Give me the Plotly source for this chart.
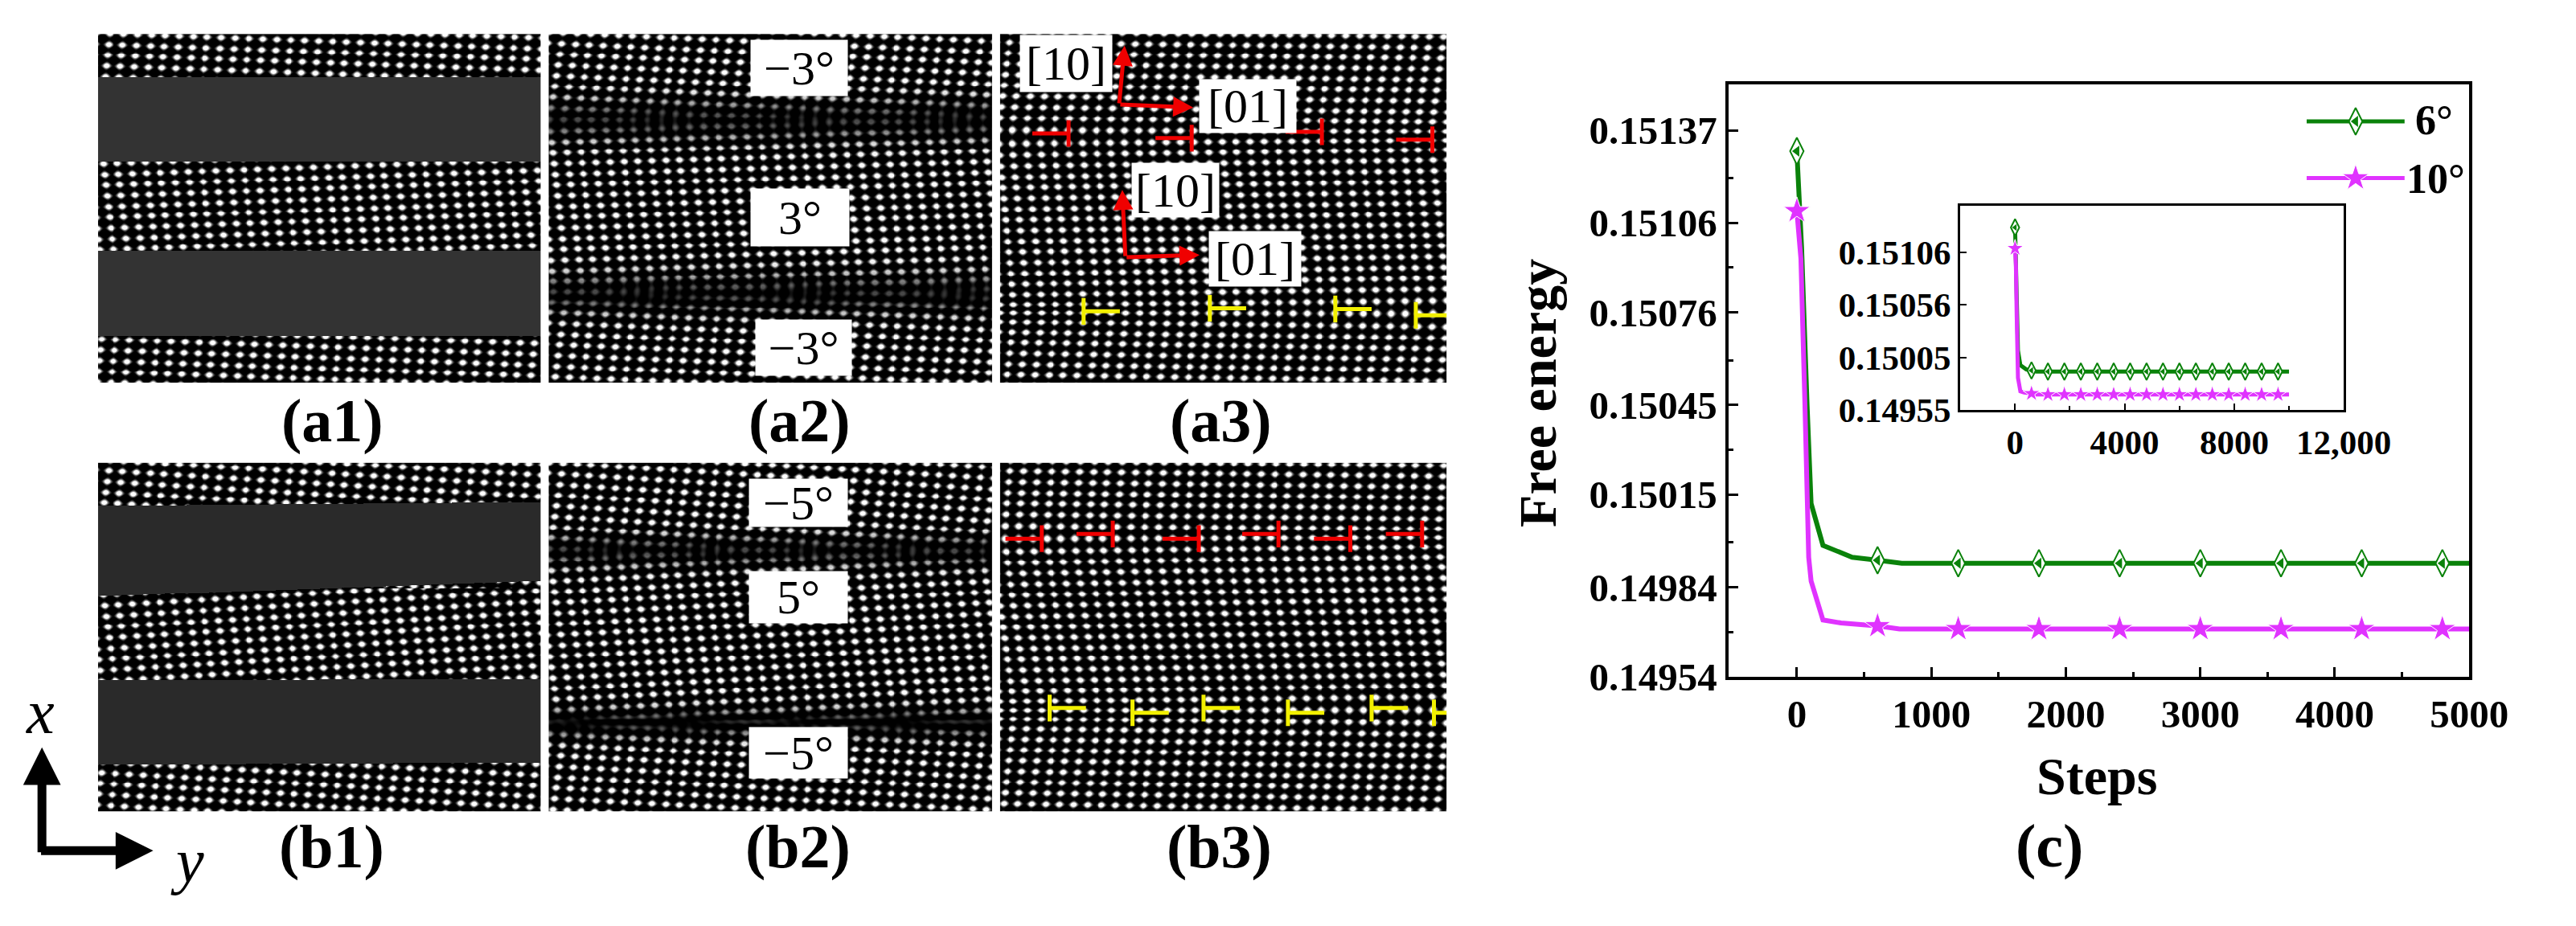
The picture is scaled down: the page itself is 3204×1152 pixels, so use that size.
import numpy as np
import plotly.graph_objects as go

W, H = 3204, 1152
# the page body keeps its 8 px margin, so the figure is drawn smaller and everything is shifted by it
PAGE_MARGIN = 8
FIG_W, FIG_H = W - 2 * PAGE_MARGIN, H - 2 * PAGE_MARGIN - 4
SERIF = "Liberation Serif"
GREEN = "#0a820a"
MAGENTA = "#e033ff"

# --- curve (c) ---
steps_6 = [0, 35, 76, 106, 194, 411, 604, 780, 1200, 2400, 5000, 10000]
energy_6 = [0.15130, 0.15098, 0.15045, 0.15012, 0.14998, 0.14994, 0.14993, 0.14992, 0.14992, 0.14992, 0.14992, 0.14992]
steps_10 = [0, 30, 60, 88, 106, 194, 329, 604, 763, 1200, 2400, 5000, 10000]
energy_10 = [0.15110, 0.15094, 0.15045, 0.14994, 0.14986, 0.14973, 0.14972, 0.14971, 0.14970, 0.14970, 0.14970, 0.14970, 0.14970]
marker_steps = [0, 600, 1200, 1800, 2400, 3000, 3600, 4200, 4800, 5400, 6000, 6600, 7200, 7800, 8400, 9000, 9600]
marker_6 = [0.15130, 0.14993] + [0.14992] * 15
marker_10 = [0.15110, 0.14971] + [0.14970] * 15

main_yticks = [0.14954, 0.14984, 0.15015, 0.15045, 0.15076, 0.15106, 0.15137]
main_ylabels = ["0.14954", "0.14984", "0.15015", "0.15045", "0.15076", "0.15106", "0.15137"]
main_yminor = [0.14969, 0.14999, 0.15030, 0.15060, 0.15091, 0.15121]
main_xticks = [0, 1000, 2000, 3000, 4000, 5000]
main_xminor = [500, 1500, 2500, 3500, 4500]
inset_yticks = [0.14955, 0.15005, 0.15056, 0.15106]
inset_ylabels = ["0.14955", "0.15005", "0.15056", "0.15106"]
inset_xticks = [0, 4000, 8000, 12000]
inset_xlabels = ["0", "4000", "8000", "12,000"]
inset_xminor = [2000, 6000, 10000]

# legend key, in main axis units
legend_x = [3791, 4519]
legend_mid = [4155]
legend_y_6 = [0.15140, 0.15140]
legend_y_10 = [0.15121, 0.15121]

# --- micrograph panels, image pixels ---
panel_left = [124, 695, 1267]
panel_right = [685, 1257, 1833]
row_top = [43, 590]
row_bottom = [488, 1035]

# dark bands of (a1) and (b1): top/bottom edge at the left and right side
bands_a1 = [[98, 98, 205, 205], [320, 320, 427, 428]]
bands_b1 = [[645, 640, 760, 740], [867, 865, 975, 972]]
band_grey = [51, 42]

# lattice pitch in pixels
pitch_x = 17.7
pitch_y = 13.7

# grains: lower limit in y, row slope, column lean, anchor dot
grains_a1 = [[43, 0.035, -0.08, 137, 56], [205, -0.035, 0.09, 132, 222], [427, 0.035, -0.08, 128, 432]]
grains_a2 = [[43, 0.045, -0.12, 711, 55], [152, -0.03, 0.084, 718, 194], [373, 0.04, -0.1, 712, 412]]
grains_b1 = [[590, 0.06, -0.11, 137, 600], [750, -0.06, 0.11, 132, 772], [970, 0.055, -0.11, 128, 985]]
grains_b2 = [[590, 0.06, -0.12, 711, 604], [702, -0.05, 0.11, 718, 740], [922, 0.05, -0.11, 712, 950]]
slopes_a3 = [[43, 0.012, -0.10], [172, -0.015, 0.075], [397, 0.015, -0.09]]
slopes_b3 = [[590, 0.012, -0.07], [684, -0.015, 0.11], [906, 0.015, -0.09]]

# dislocation symbols: end of the stem that meets the bar
red_a3 = [[1354, 170], [1510, 176], [1675, 168], [1815, 178]]
yellow_a3 = [[1373, 397], [1533, 393], [1692, 394], [1794, 402]]
red_b3 = [[1320, 687], [1410, 681], [1519, 687], [1620, 681], [1711, 687], [1802, 681]]
yellow_b3 = [[1330, 903], [1435, 909], [1525, 903], [1632, 909], [1738, 903], [1817, 909]]

# white label boxes: centre x, centre y, width, height, text
labels_a2 = [[1013, 86, 118, 67, "−3°"], [1014, 277, 120, 69, "3°"], [1018, 443, 117, 67, "−3°"]]
labels_b2 = [[1012, 641, 120, 57, "−5°"], [1012, 762, 120, 62, "5°"], [1012, 960, 120, 61, "−5°"]]
labels_a3 = [[1351, 81, 112, 68, "[10]"], [1489, 242, 106, 65, "[10]"], [1581, 135, 118, 64, "[01]"], [1590, 330, 112, 66, "[01]"]]


def grid(col, row):
    x = np.arange(panel_left[col], panel_right[col])
    y = np.arange(row_top[row], row_bottom[row])
    return np.meshgrid(x, y)


def wave(X, Y, g):
    dx = (X - g[3]) / pitch_x
    dy = (Y - g[4]) / pitch_y
    u = dx - g[2] * dy
    v = dy - g[1] * pitch_x / pitch_y * dx
    return (np.cos(2 * np.pi * u) + np.cos(2 * np.pi * v)) / 2


def dots(psi):
    return np.clip(np.clip(psi + 0.05, 0, 1) ** 1.5 * 1.35, 0, 1) * 255


def band_panel(col, row, grains, bands, grey):
    # two grains with a flat grey stripe painted over each boundary
    X, Y = grid(col, row)
    img = np.zeros(X.shape)
    for i, g in enumerate(grains):
        stop = grains[i + 1][0] if i + 1 < len(grains) else 99999
        m = (Y >= g[0]) & (Y < stop)
        img[m] = dots(wave(X, Y, g))[m]
    t = (X - X.min()) / (X.max() - X.min())
    for b in bands:
        top = b[0] + (b[1] - b[0]) * t
        bot = b[2] + (b[3] - b[2]) * t
        img[(Y >= top) & (Y <= bot)] = grey
    return img.astype(np.uint8)


def moire_panel(col, row, grains, width):
    # grains overlap at each boundary, the interference gives the chevrons
    X, Y = grid(col, row)
    psi = wave(X, Y, grains[0])
    dim = np.ones(X.shape)
    for g in grains[1:]:
        w = 0.5 * (1 + np.tanh((Y - g[0]) / (width * 0.8)))
        psi = (1 - w) * psi + w * wave(X, Y, g)
        dim -= 0.72 * np.exp(-(((Y - g[0]) / width) ** 2))
    return (dots(psi) * np.clip(dim, 0, 1)).astype(np.uint8)


def smooth_panel(col, row, slopes, anchor):
    # one connected lattice, the tilt changes at the dislocation rows
    X, Y = grid(col, row)
    mid = (panel_left[col] + panel_right[col]) / 2
    ys = Y[:, 0].astype(float)
    kr = np.full(ys.shape, slopes[0][1])
    kc = np.full(ys.shape, slopes[0][2])
    for i in range(1, len(slopes)):
        w = 0.5 * (1 + np.tanh((ys - slopes[i][0]) / 16))
        kr = kr + (slopes[i][1] - slopes[i - 1][1]) * w
        kc = kc + (slopes[i][2] - slopes[i - 1][2]) * w
    shift = np.cumsum(kc) / pitch_y
    u = (X - anchor) / pitch_x - shift[:, None]
    v = (Y - row_top[row]) / pitch_y - kr[:, None] * (X - mid) / pitch_y
    psi = (np.cos(2 * np.pi * u) + np.cos(2 * np.pi * v)) / 2
    return dots(psi).astype(np.uint8)


panels = [
    band_panel(0, 0, grains_a1, bands_a1, band_grey[0]),
    moire_panel(1, 0, grains_a2, 24),
    smooth_panel(2, 0, slopes_a3, 1280),
    band_panel(0, 1, grains_b1, bands_b1, band_grey[1]),
    moire_panel(1, 1, grains_b2, 18),
    smooth_panel(2, 1, slopes_b3, 1280),
]


def px(x):
    return (x - PAGE_MARGIN) / FIG_W


def py(y):
    return 1 - (y - PAGE_MARGIN) / FIG_H


fig = go.Figure()
layout = {}


def place(n, left, right, top, bottom):
    layout[f"xaxis{n}"] = dict(domain=[px(left), px(right)], anchor=f"y{n}")
    layout[f"yaxis{n}"] = dict(domain=[py(bottom), py(top)], anchor=f"x{n}")


for i, img in enumerate(panels):
    n = i + 1
    col, row = i % 3, i // 3
    place(n, panel_left[col], panel_right[col], row_top[row], row_bottom[row])
    layout[f"xaxis{n}"].update(range=[panel_left[col], panel_right[col]], visible=False)
    layout[f"yaxis{n}"].update(range=[row_bottom[row], row_top[row]], visible=False)
    fig.add_trace(go.Heatmap(z=img, x0=panel_left[col] + 0.5, dx=1, y0=row_top[row] + 0.5, dy=1,
                             zmin=0, zmax=255, showscale=False, hoverinfo="skip",
                             colorscale=[[0, "black"], [1, "white"]],
                             xaxis=f"x{n}", yaxis=f"y{n}"))


def add_t_marks(marks, sign, color, n):
    xs, ys = [], []
    for m in marks:
        xs += [m[0] - sign * 46, m[0], None, m[0], m[0], None]
        ys += [m[1], m[1], None, m[1] - 17, m[1] + 17, None]
    fig.add_trace(go.Scatter(x=xs, y=ys, mode="lines", line=dict(color=color, width=5),
                             showlegend=False, hoverinfo="skip", xaxis=f"x{n}", yaxis=f"y{n}"))


add_t_marks(red_a3, 1, "#f00000", 3)
add_t_marks(yellow_a3, -1, "#f2f000", 3)
add_t_marks(red_b3, 1, "#f00000", 6)
add_t_marks(yellow_b3, -1, "#f2f000", 6)

annotations = []


def add_boxes(labels, n, size):
    for b in labels:
        annotations.append(dict(x=b[0], y=b[1], xref=f"x{n}", yref=f"y{n}", text=b[4], showarrow=False,
                                width=b[2], height=b[3], bgcolor="white", valign="middle",
                                font=dict(family=SERIF, size=size, color="black")))


add_boxes(labels_a2, 2, 60)
add_boxes(labels_b2, 5, 60)
add_boxes(labels_a3, 3, 60)


def red_arrow(x0, y0, x1, y1):
    annotations.append(dict(x=x1, y=y1, ax=x0, ay=y0, xref="x3", yref="y3", axref="x3", ayref="y3", text="",
                            showarrow=True, arrowhead=2, arrowwidth=5, arrowsize=1, arrowcolor="#f00000"))


red_arrow(1418, 133, 1425, 58)
red_arrow(1418, 133, 1512, 137)
red_arrow(1426, 328, 1422, 242)
red_arrow(1426, 328, 1520, 325)

# panel captions and free text
def caption(text, x, y, size=76, bold=True, italic=False, angle=0, left=False):
    annotations.append(dict(x=px(x), y=py(y), xref="paper", yref="paper", text=text, showarrow=False,
                            textangle=angle, xanchor="left" if left else "center", yanchor="middle",
                            font=dict(family=SERIF, size=size, color="black",
                                      weight="bold" if bold else "normal",
                                      style="italic" if italic else "normal")))


caption("(a1)", 421, 537)
caption("(a2)", 1013, 537)
caption("(a3)", 1547, 537)
caption("(b1)", 420, 1080)
caption("(b2)", 1011, 1080)
caption("(b3)", 1545, 1080)
caption("(c)", 2597, 1079)
caption("Steps", 2657, 990, size=66)
caption("Free energy", 1949, 501, size=66, angle=-90)
caption("6°", 3058, 153, size=52, left=True)
caption("10°", 3047, 228, size=52, left=True)
caption("x", 51, 908, size=78, bold=False, italic=True)
caption("y", 237, 1097, size=78, bold=False, italic=True)

# x / y arrows
for tip in ([53, 953], [194, 1085]):
    annotations.append(dict(x=px(tip[0]), y=py(tip[1]), xref="paper", yref="paper",
                            ax=53 - tip[0], ay=1085 - tip[1], axref="pixel", ayref="pixel", text="",
                            showarrow=True, arrowhead=2, arrowwidth=11, arrowsize=0.85, arrowcolor="black"))


# --- plot (c) ---
def tick_style(size, line, tlen):
    return dict(showline=True, linecolor="black", linewidth=line, mirror=True, showgrid=False, zeroline=False,
                ticks="inside", ticklen=tlen, tickwidth=line - 1, tickcolor="black",
                tickfont=dict(family=SERIF, size=size, color="black", weight="bold"))


place(7, 2190, 3129, 107, 863)
layout["xaxis7"].update(range=[-510, 5000], tickvals=main_xticks, tickmode="array", **tick_style(49, 4, 12),
                        minor=dict(tickvals=main_xminor, ticks="inside", ticklen=6, tickwidth=3, tickcolor="black"))
layout["yaxis7"].update(range=[0.14954, 0.151525], tickvals=main_yticks, ticktext=main_ylabels, tickmode="array",
                        **tick_style(49, 4, 12),
                        minor=dict(tickvals=main_yminor, ticks="inside", ticklen=6, tickwidth=3, tickcolor="black"))
place(8, 2484, 2970, 262, 523)
layout["xaxis8"].update(range=[-2000, 12000], tickvals=inset_xticks, ticktext=inset_xlabels, tickmode="array",
                        **tick_style(43, 3, 8),
                        minor=dict(tickvals=inset_xminor, ticks="inside", ticklen=5, tickwidth=2, tickcolor="black"))
layout["yaxis8"].update(range=[0.14955, 0.15151], tickvals=inset_yticks, ticktext=inset_ylabels, tickmode="array",
                        **tick_style(43, 3, 8))


def half_marks(x, y, color, symbol, size, n):
    # half filled symbol: hollow shape with a filled left half on top
    if symbol == "diamond":
        fig.add_trace(go.Scatter(x=x, y=y, mode="markers", showlegend=False, hoverinfo="skip", xaxis=f"x{n}", yaxis=f"y{n}",
                                 marker=dict(symbol="diamond-tall", size=size, color="white", line=dict(color=color, width=2))))
        fig.add_trace(go.Scatter(x=x, y=y, mode="markers", showlegend=False, hoverinfo="skip", xaxis=f"x{n}", yaxis=f"y{n}",
                                 marker=dict(symbol="triangle-left", size=size * 0.5, color=color)))
    else:
        fig.add_trace(go.Scatter(x=x, y=y, mode="markers", showlegend=False, hoverinfo="skip", xaxis=f"x{n}", yaxis=f"y{n}",
                                 marker=dict(symbol="star", size=size, color=color, line=dict(color="white", width=1))))


for n, lw, d_size, s_size in ((7, 6, 24, 25), (8, 5, 15, 16)):
    fig.add_trace(go.Scatter(x=steps_6, y=energy_6, mode="lines", name="6°", showlegend=False,
                             line=dict(color=GREEN, width=lw), xaxis=f"x{n}", yaxis=f"y{n}"))
    half_marks(marker_steps, marker_6, GREEN, "diamond", d_size, n)
    fig.add_trace(go.Scatter(x=steps_10, y=energy_10, mode="lines", name="10°", showlegend=False,
                             line=dict(color=MAGENTA, width=lw), xaxis=f"x{n}", yaxis=f"y{n}"))
    half_marks(marker_steps, marker_10, MAGENTA, "star", s_size, n)

fig.add_trace(go.Scatter(x=legend_x, y=legend_y_6, mode="lines", line=dict(color=GREEN, width=5), showlegend=False,
                         hoverinfo="skip", xaxis="x7", yaxis="y7"))
half_marks(legend_mid, [legend_y_6[0]], GREEN, "diamond", 24, 7)
fig.add_trace(go.Scatter(x=legend_x, y=legend_y_10, mode="lines", line=dict(color=MAGENTA, width=5), showlegend=False,
                         hoverinfo="skip", xaxis="x7", yaxis="y7"))
half_marks(legend_mid, [legend_y_10[0]], MAGENTA, "star", 25, 7)

fig.update_layout(width=FIG_W, height=FIG_H, margin=dict(l=0, r=0, t=0, b=0), paper_bgcolor="white", plot_bgcolor="white",
                  showlegend=False, annotations=annotations, **layout)

fig.write_html("out.html")
